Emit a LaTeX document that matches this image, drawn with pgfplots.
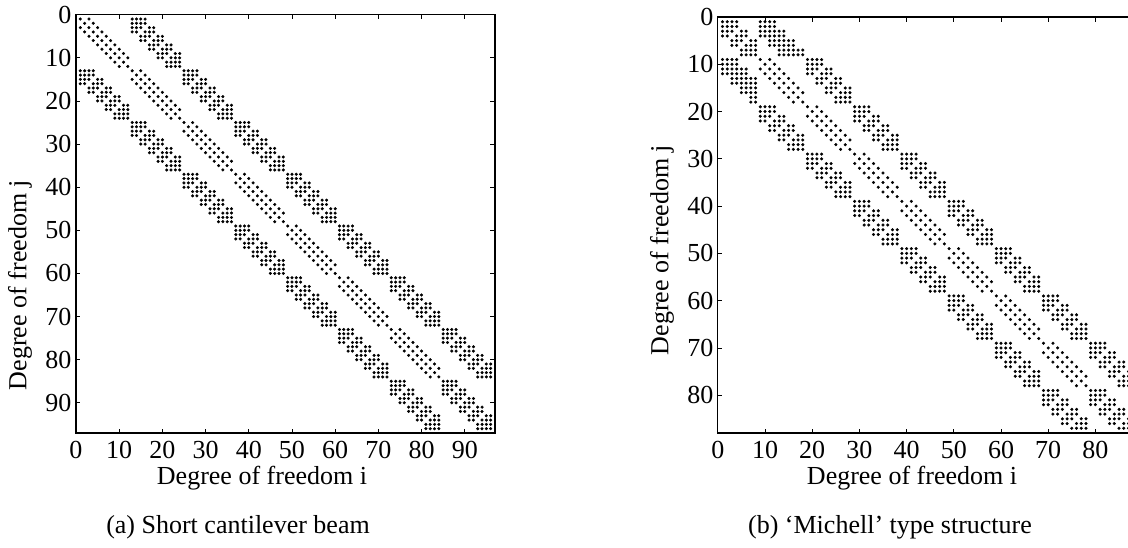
\documentclass[border=0pt]{standalone}
\usepackage{pgfplots}
\usepackage{pgfplotstable}
\pgfplotsset{compat=1.18}
\usepackage{fontspec}
\setmainfont{Liberation Serif}
\newcommand{\tfs}{\fontsize{26}{30}\selectfont}
% ---------- (a) diagonal blocks: row r, nonzero columns ----------
\pgfplotstableread{
r a b c d e
1 1 3 nan nan nan
2 2 4 nan nan nan
3 1 3 5 nan nan
4 2 4 6 nan nan
5 3 5 7 nan nan
6 4 6 8 nan nan
7 5 7 9 nan nan
8 6 8 10 nan nan
9 7 9 11 nan nan
10 8 10 12 nan nan
11 9 11 nan nan nan
12 10 12 nan nan nan
13 13 15 nan nan nan
14 14 16 nan nan nan
15 13 15 17 nan nan
16 14 16 18 nan nan
17 15 17 19 nan nan
18 16 18 20 nan nan
19 17 19 21 nan nan
20 18 20 22 nan nan
21 19 21 23 nan nan
22 20 22 24 nan nan
23 21 23 nan nan nan
24 22 24 nan nan nan
25 25 27 nan nan nan
26 26 28 nan nan nan
27 25 27 29 nan nan
28 26 28 30 nan nan
29 27 29 31 nan nan
30 28 30 32 nan nan
31 29 31 33 nan nan
32 30 32 34 nan nan
33 31 33 35 nan nan
34 32 34 36 nan nan
35 33 35 nan nan nan
36 34 36 nan nan nan
37 37 39 nan nan nan
38 38 40 nan nan nan
39 37 39 41 nan nan
40 38 40 42 nan nan
41 39 41 43 nan nan
42 40 42 44 nan nan
43 41 43 45 nan nan
44 42 44 46 nan nan
45 43 45 47 nan nan
46 44 46 48 nan nan
47 45 47 nan nan nan
48 46 48 nan nan nan
49 49 51 nan nan nan
50 50 52 nan nan nan
51 49 51 53 nan nan
52 50 52 54 nan nan
53 51 53 55 nan nan
54 52 54 56 nan nan
55 53 55 57 nan nan
56 54 56 58 nan nan
57 55 57 59 nan nan
58 56 58 60 nan nan
59 57 59 nan nan nan
60 58 60 nan nan nan
61 61 63 nan nan nan
62 62 64 nan nan nan
63 61 63 65 nan nan
64 62 64 66 nan nan
65 63 65 67 nan nan
66 64 66 68 nan nan
67 65 67 69 nan nan
68 66 68 70 nan nan
69 67 69 71 nan nan
70 68 70 72 nan nan
71 69 71 nan nan nan
72 70 72 nan nan nan
73 73 75 nan nan nan
74 74 76 nan nan nan
75 73 75 77 nan nan
76 74 76 78 nan nan
77 75 77 79 nan nan
78 76 78 80 nan nan
79 77 79 81 nan nan
80 78 80 82 nan nan
81 79 81 83 nan nan
82 80 82 84 nan nan
83 81 83 nan nan nan
84 82 84 nan nan nan
85 85 86 87 88 nan
86 85 86 87 88 nan
87 85 86 87 89 90
88 85 86 88 89 90
89 87 88 89 91 92
90 87 88 90 91 92
91 89 90 91 93 94
92 89 90 92 93 94
93 91 92 93 95 96
94 91 92 94 95 96
95 93 94 95 96 nan
96 93 94 95 96 nan
}\Da
% ---------- (a) off-diagonal blocks (upper), mirrored for lower ----------
\pgfplotstableread{
r a b c d e
1 13 14 15 16 nan
2 13 14 15 16 nan
3 13 14 15 17 18
4 13 14 16 17 18
5 15 16 17 19 20
6 15 16 18 19 20
7 17 18 19 21 22
8 17 18 20 21 22
9 19 20 21 23 24
10 19 20 22 23 24
11 21 22 23 24 nan
12 21 22 23 24 nan
13 25 26 27 28 nan
14 25 26 27 28 nan
15 25 26 27 29 30
16 25 26 28 29 30
17 27 28 29 31 32
18 27 28 30 31 32
19 29 30 31 33 34
20 29 30 32 33 34
21 31 32 33 35 36
22 31 32 34 35 36
23 33 34 35 36 nan
24 33 34 35 36 nan
25 37 38 39 40 nan
26 37 38 39 40 nan
27 37 38 39 41 42
28 37 38 40 41 42
29 39 40 41 43 44
30 39 40 42 43 44
31 41 42 43 45 46
32 41 42 44 45 46
33 43 44 45 47 48
34 43 44 46 47 48
35 45 46 47 48 nan
36 45 46 47 48 nan
37 49 50 51 52 nan
38 49 50 51 52 nan
39 49 50 51 53 54
40 49 50 52 53 54
41 51 52 53 55 56
42 51 52 54 55 56
43 53 54 55 57 58
44 53 54 56 57 58
45 55 56 57 59 60
46 55 56 58 59 60
47 57 58 59 60 nan
48 57 58 59 60 nan
49 61 62 63 64 nan
50 61 62 63 64 nan
51 61 62 63 65 66
52 61 62 64 65 66
53 63 64 65 67 68
54 63 64 66 67 68
55 65 66 67 69 70
56 65 66 68 69 70
57 67 68 69 71 72
58 67 68 70 71 72
59 69 70 71 72 nan
60 69 70 71 72 nan
61 73 74 75 76 nan
62 73 74 75 76 nan
63 73 74 75 77 78
64 73 74 76 77 78
65 75 76 77 79 80
66 75 76 78 79 80
67 77 78 79 81 82
68 77 78 80 81 82
69 79 80 81 83 84
70 79 80 82 83 84
71 81 82 83 84 nan
72 81 82 83 84 nan
73 85 86 87 88 nan
74 85 86 87 88 nan
75 85 86 87 89 90
76 85 86 88 89 90
77 87 88 89 91 92
78 87 88 90 91 92
79 89 90 91 93 94
80 89 90 92 93 94
81 91 92 93 95 96
82 91 92 94 95 96
83 93 94 95 96 nan
84 93 94 95 96 nan
}\Oa
% ---------- (b) diagonal blocks ----------
\pgfplotstableread{
r a b c d e
1 1 2 3 4 nan
2 1 2 3 4 nan
3 1 2 3 5 6
4 1 2 4 5 6
5 3 4 5 7 8
6 3 4 6 7 8
7 5 6 7 8 nan
8 5 6 7 8 nan
9 9 11 nan nan nan
10 10 12 nan nan nan
11 9 11 13 nan nan
12 10 12 14 nan nan
13 11 13 15 nan nan
14 12 14 16 nan nan
15 13 15 17 nan nan
16 14 16 18 nan nan
17 15 17 nan nan nan
18 16 18 nan nan nan
19 19 21 nan nan nan
20 20 22 nan nan nan
21 19 21 23 nan nan
22 20 22 24 nan nan
23 21 23 25 nan nan
24 22 24 26 nan nan
25 23 25 27 nan nan
26 24 26 28 nan nan
27 25 27 nan nan nan
28 26 28 nan nan nan
29 29 31 nan nan nan
30 30 32 nan nan nan
31 29 31 33 nan nan
32 30 32 34 nan nan
33 31 33 35 nan nan
34 32 34 36 nan nan
35 33 35 37 nan nan
36 34 36 38 nan nan
37 35 37 nan nan nan
38 36 38 nan nan nan
39 39 41 nan nan nan
40 40 42 nan nan nan
41 39 41 43 nan nan
42 40 42 44 nan nan
43 41 43 45 nan nan
44 42 44 46 nan nan
45 43 45 47 nan nan
46 44 46 48 nan nan
47 45 47 nan nan nan
48 46 48 nan nan nan
49 49 51 nan nan nan
50 50 52 nan nan nan
51 49 51 53 nan nan
52 50 52 54 nan nan
53 51 53 55 nan nan
54 52 54 56 nan nan
55 53 55 57 nan nan
56 54 56 58 nan nan
57 55 57 nan nan nan
58 56 58 nan nan nan
59 59 61 nan nan nan
60 60 62 nan nan nan
61 59 61 63 nan nan
62 60 62 64 nan nan
63 61 63 65 nan nan
64 62 64 66 nan nan
65 63 65 67 nan nan
66 64 66 68 nan nan
67 65 67 nan nan nan
68 66 68 nan nan nan
69 69 71 nan nan nan
70 70 72 nan nan nan
71 69 71 73 nan nan
72 70 72 74 nan nan
73 71 73 75 nan nan
74 72 74 76 nan nan
75 73 75 77 nan nan
76 74 76 78 nan nan
77 75 77 nan nan nan
78 76 78 nan nan nan
79 79 80 81 82 nan
80 79 80 81 82 nan
81 79 80 81 83 84
82 79 80 82 83 84
83 81 82 83 85 86
84 81 82 84 85 86
85 83 84 85 87 nan
86 83 84 86 87 nan
87 85 86 87 nan nan
}\Db
% ---------- (b) off-diagonal blocks (upper), mirrored for lower ----------
\pgfplotstableread{
r a b c d e f
1 9 10 11 12 nan nan
2 9 10 11 12 nan nan
3 9 10 11 12 13 14
4 9 10 11 12 13 14
5 11 12 13 14 15 16
6 11 12 13 14 15 16
7 13 14 15 16 17 18
8 13 14 15 16 17 18
9 19 20 21 22 nan nan
10 19 20 21 22 nan nan
11 19 20 21 23 24 nan
12 19 20 22 23 24 nan
13 21 22 23 25 26 nan
14 21 22 24 25 26 nan
15 23 24 25 27 28 nan
16 23 24 26 27 28 nan
17 25 26 27 28 nan nan
18 25 26 27 28 nan nan
19 29 30 31 32 nan nan
20 29 30 31 32 nan nan
21 29 30 31 33 34 nan
22 29 30 32 33 34 nan
23 31 32 33 35 36 nan
24 31 32 34 35 36 nan
25 33 34 35 37 38 nan
26 33 34 36 37 38 nan
27 35 36 37 38 nan nan
28 35 36 37 38 nan nan
29 39 40 41 42 nan nan
30 39 40 41 42 nan nan
31 39 40 41 43 44 nan
32 39 40 42 43 44 nan
33 41 42 43 45 46 nan
34 41 42 44 45 46 nan
35 43 44 45 47 48 nan
36 43 44 46 47 48 nan
37 45 46 47 48 nan nan
38 45 46 47 48 nan nan
39 49 50 51 52 nan nan
40 49 50 51 52 nan nan
41 49 50 51 53 54 nan
42 49 50 52 53 54 nan
43 51 52 53 55 56 nan
44 51 52 54 55 56 nan
45 53 54 55 57 58 nan
46 53 54 56 57 58 nan
47 55 56 57 58 nan nan
48 55 56 57 58 nan nan
49 59 60 61 62 nan nan
50 59 60 61 62 nan nan
51 59 60 61 63 64 nan
52 59 60 62 63 64 nan
53 61 62 63 65 66 nan
54 61 62 64 65 66 nan
55 63 64 65 67 68 nan
56 63 64 66 67 68 nan
57 65 66 67 68 nan nan
58 65 66 67 68 nan nan
59 69 70 71 72 nan nan
60 69 70 71 72 nan nan
61 69 70 71 73 74 nan
62 69 70 72 73 74 nan
63 71 72 73 75 76 nan
64 71 72 74 75 76 nan
65 73 74 75 77 78 nan
66 73 74 76 77 78 nan
67 75 76 77 78 nan nan
68 75 76 77 78 nan nan
69 79 80 81 82 nan nan
70 79 80 81 82 nan nan
71 79 80 81 83 84 nan
72 79 80 82 83 84 nan
73 81 82 83 85 86 nan
74 81 82 84 85 86 nan
75 83 84 85 87 nan nan
76 83 84 86 87 nan nan
77 85 86 87 nan nan nan
78 85 86 87 nan nan nan
}\Ob
\pgfplotsset{
  spy/.style={only marks, mark=*, mark size=1.35pt, black},
  myax/.style={scale only axis, anchor=south west, y dir=reverse,
    tick align=inside, major tick length=4.5pt,
    tick style={black, line width=0.7pt},
    axis line style={black, line width=1.1pt},
    ticklabel style={font=\tfs},
    /pgf/number format/assume math mode=true,
    xticklabel style={yshift=-5pt},
    yticklabel style={xshift=-1pt}},
}
\begin{document}
\begin{tikzpicture}
\path[use as bounding box] (0,0) rectangle (1128pt,547pt);
\begin{axis}[myax, at={(76pt,114pt)}, width=419pt, height=418.3pt,
  xmin=0, xmax=97, ymin=0, ymax=97,
  xtick={0,10,...,90}, ytick={0,10,...,90}]
\pgfplotsinvokeforeach{a,b,c,d,e}{\addplot[spy] table[x=#1,y=r]{\Da};}
\pgfplotsinvokeforeach{a,b,c,d,e}{\addplot[spy] table[x=#1,y=r]{\Oa};
  \addplot[spy] table[x=r,y=#1]{\Oa};}
\end{axis}
\begin{axis}[myax, at={(717.8pt,114pt)}, width=415.4pt, height=416pt,
  xmin=0, xmax=88, ymin=0, ymax=88,
  xtick={0,10,...,80}, ytick={0,10,...,80}]
\pgfplotsinvokeforeach{a,b,c,d,e}{\addplot[spy] table[x=#1,y=r]{\Db};}
\pgfplotsinvokeforeach{a,b,c,d,e,f}{\addplot[spy] table[x=#1,y=r]{\Ob};
  \addplot[spy] table[x=r,y=#1]{\Ob};}
\end{axis}
\node[font=\tfs, anchor=base] at (262pt,63pt) {Degree of freedom i};
\node[font=\tfs, anchor=base] at (238pt,14pt) {(a) Short cantilever beam};
\node[font=\tfs, anchor=base] at (912pt,63pt) {Degree of freedom i};
\node[font=\tfs, anchor=base] at (890pt,14pt) {(b) ‘Michell’ type structure};
\node[font=\tfs, rotate=90] at (20pt,262pt) {Degree of freedom j};
\node[font=\tfs, rotate=90] at (662pt,297pt) {Degree of freedom j};
\end{tikzpicture}
\end{document}
